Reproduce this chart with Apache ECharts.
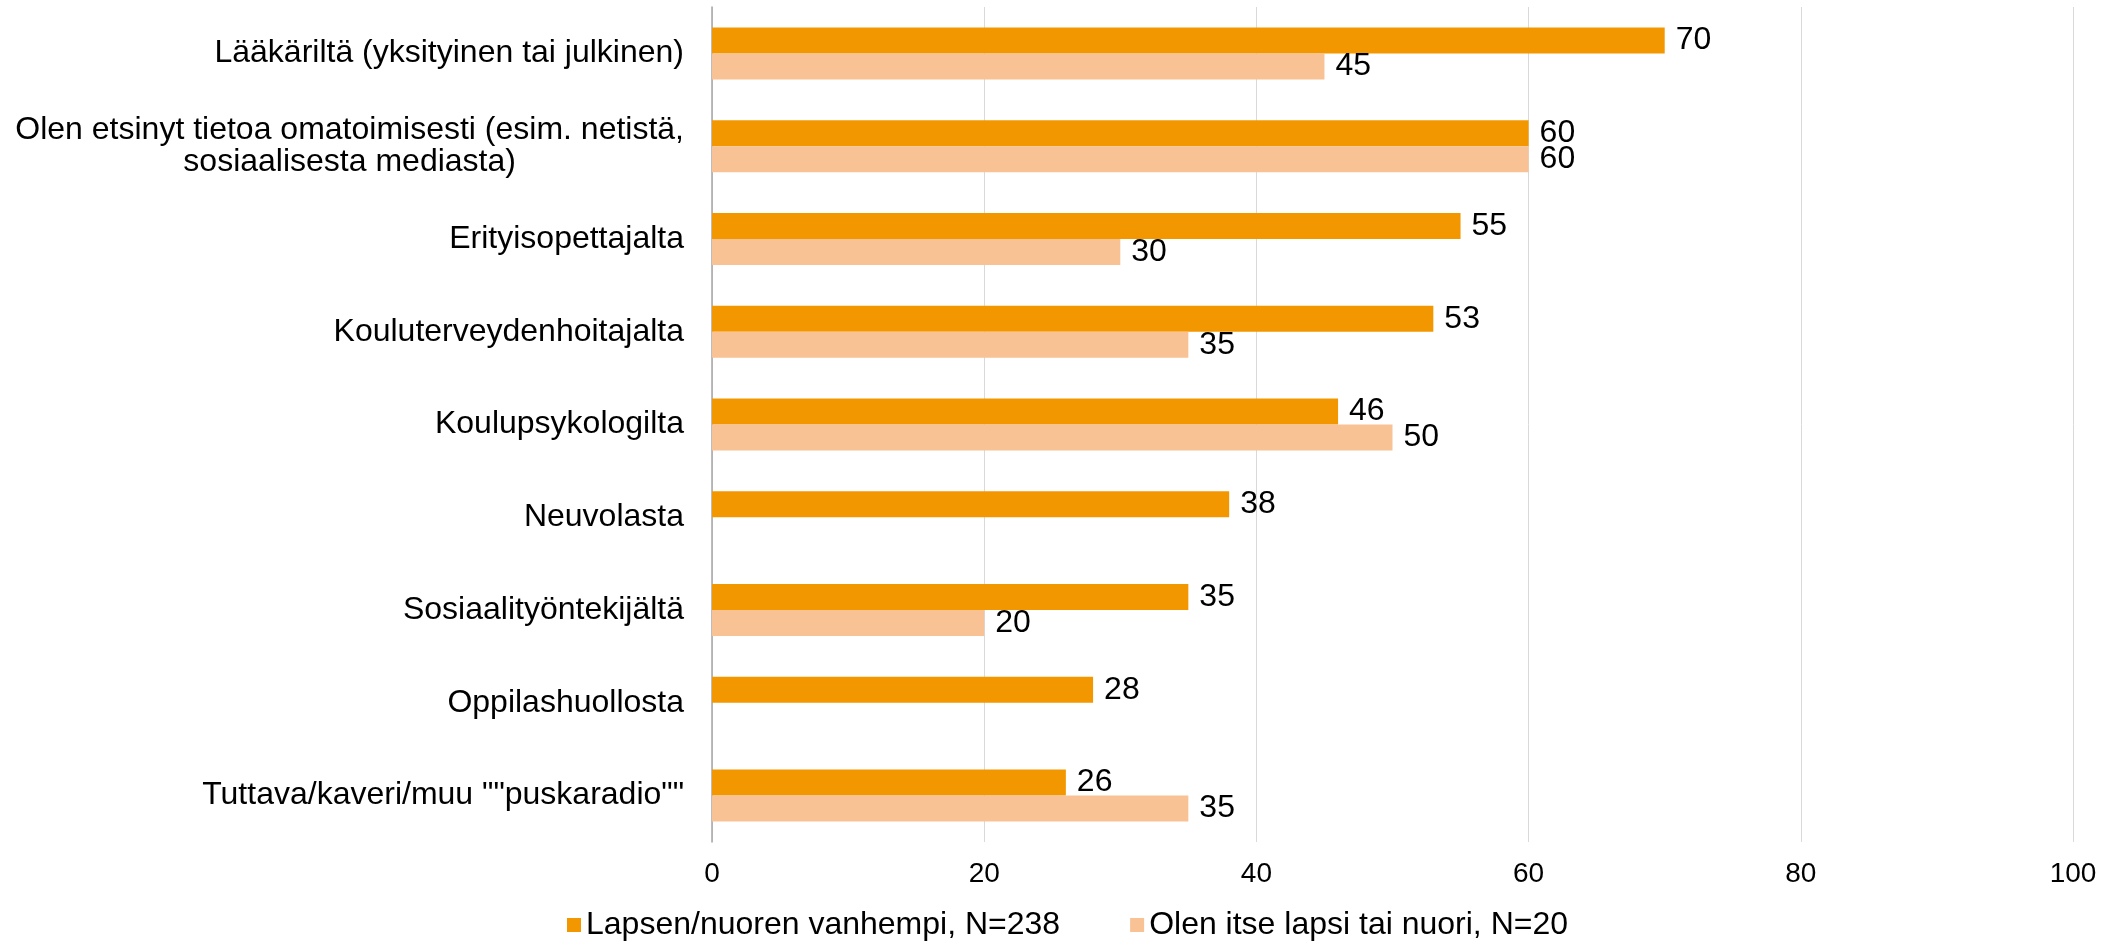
<!DOCTYPE html>
<html lang="fi">
<head>
<meta charset="UTF-8">
<title>Tiedonlähteet</title>
<script src="https://cdn.jsdelivr.net/npm/echarts@6/dist/echarts.min.js"></script>
<style>
  html, body { margin: 0; padding: 0; background: #fff; }
  #chart { width: 2113px; height: 943px; }
</style>
</head>
<body>
<div id="chart"></div>
<script>
// data
var categories = [
  'Lääkäriltä (yksityinen tai julkinen)',
  'Olen etsinyt tietoa omatoimisesti (esim. netistä,\nsosiaalisesta mediasta)',
  'Erityisopettajalta',
  'Kouluterveydenhoitajalta',
  'Koulupsykologilta',
  'Neuvolasta',
  'Sosiaalityöntekijältä',
  'Oppilashuollosta',
  'Tuttava/kaveri/muu ""puskaradio""'
];
var parents = [70, 60, 55, 53, 46, 38, 35, 28, 26];
var youth = [45, 60, 30, 35, 50, null, 20, null, 35];
var seriesNames = ['Lapsen/nuoren vanhempi, N=238', 'Olen itse lapsi tai nuori, N=20'];
var xTicks = [0, 20, 40, 60, 80, 100];

var font = '"Liberation Sans", Arial, sans-serif';
var chart = echarts.init(document.getElementById('chart'));

function barLabel() {
  return {
    show: true,
    position: 'right',
    distance: 11,
    color: '#000',
    fontSize: 32,
    fontFamily: font,
    formatter: function (p) { return p.value == null ? '' : p.value; }
  };
}

chart.setOption({
  animation: false,
  textStyle: { fontFamily: font },
  grid: { left: 712, right: 40, top: 7, bottom: 101, containLabel: false },
  legend: {
    top: 909,
    left: 567,
    padding: 0,
    itemWidth: 14,
    itemHeight: 14,
    itemGap: 70,
    icon: 'rect',
    textStyle: { fontSize: 32, color: '#000', fontFamily: font },
    data: seriesNames
  },
  xAxis: {
    type: 'value',
    min: xTicks[0],
    max: xTicks[xTicks.length - 1],
    interval: 20,
    axisLine: { show: false },
    axisTick: { show: false },
    splitLine: { show: true, lineStyle: { color: '#d9d9d9', width: 1 } },
    axisLabel: { color: '#000', fontSize: 28, fontFamily: font, margin: 18 }
  },
  yAxis: {
    type: 'category',
    inverse: true,
    data: categories,
    axisLine: { show: true, lineStyle: { color: '#a6a6a6', width: 1.5 } },
    axisTick: { show: false },
    axisLabel: {
      color: '#000',
      fontSize: 32,
      fontFamily: font,
      margin: 28,
      lineHeight: 32,
      formatter: function (v) {
        return v.split('\n').map(function (s) { return '{c|' + s + '}'; }).join('\n');
      },
      rich: { c: { align: 'center', fontSize: 32, lineHeight: 32, color: '#000', fontFamily: font } }
    }
  },
  series: [
    {
      name: seriesNames[0],
      type: 'bar',
      data: parents,
      barWidth: 26,
      barGap: '0%',
      itemStyle: { color: '#f39700' },
      label: barLabel()
    },
    {
      name: seriesNames[1],
      type: 'bar',
      data: youth,
      barWidth: 26,
      barGap: '0%',
      itemStyle: { color: '#f9c294' },
      label: barLabel()
    }
  ]
});
</script>
</body>
</html>
